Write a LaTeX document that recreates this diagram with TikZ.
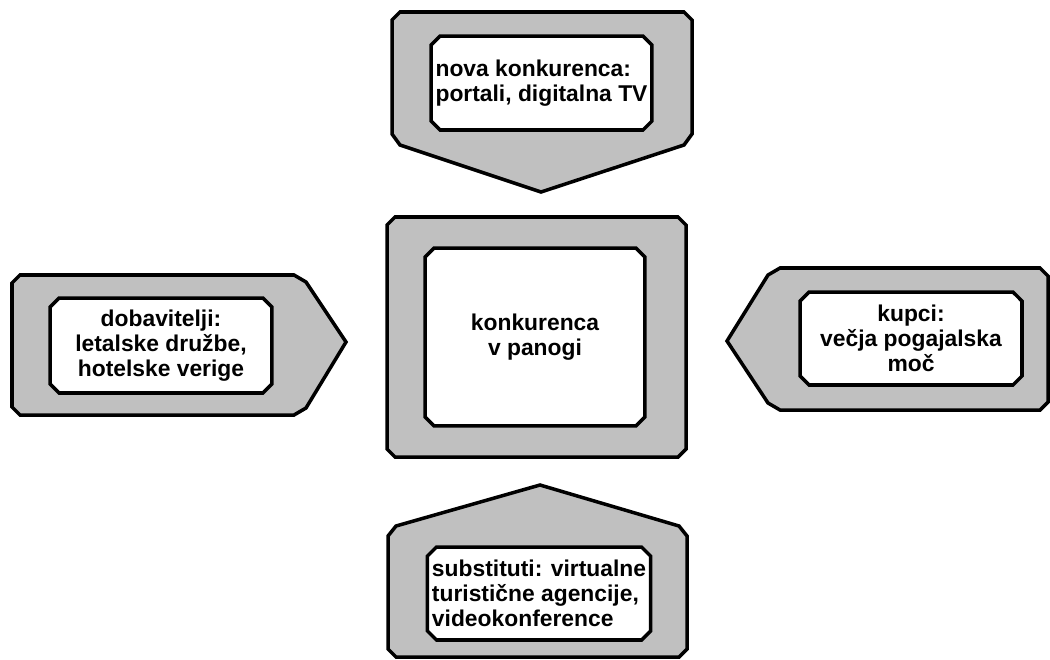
\documentclass[tikz,border=0pt]{standalone}
\usepackage{fontspec}
\setmainfont{Liberation Sans}
\usetikzlibrary{shapes.misc}
\definecolor{siva}{HTML}{C0C0C0}

\begin{document}
\begin{tikzpicture}[x=0.02cm,y=-0.02cm,
    okvir/.style={draw=black,line width=2pt,fill=siva,line join=miter},
    polje/.style={draw=black,line width=2pt,fill=white,chamfered rectangle,
      chamfered rectangle sep=0.09cm,inner sep=0pt,
      font=\bfseries\fontsize{13}{14.2}\selectfont}]

  %--- Okvir slike ---
  \useasboundingbox (0,0) rectangle (1050,659);

  %--- Konice puscic ---
  \coordinate (Tz) at (541,192);   % zgoraj
  \coordinate (Tl) at (346,342);   % levo
  \coordinate (Td) at (727,341);   % desno
  \coordinate (Ts) at (540,485);   % spodaj

  %--- Sive oblike ---
  \draw[okvir] (400,12) -- (684,12) -- (692,20) -- (692,134) -- (684,145)
    -- (Tz) -- (400,145) -- (392,134) -- (392,20) -- cycle;
  \draw[okvir] (395,217) -- (678,217) -- (686,225) -- (686,449) -- (678,457)
    -- (395,457) -- (387,449) -- (387,225) -- cycle;
  \draw[okvir] (20,275) -- (294,275) -- (306,282) -- (Tl) -- (306,408)
    -- (294,415) -- (20,415) -- (12,407) -- (12,283) -- cycle;
  \draw[okvir] (780,268) -- (1040,268) -- (1048,276) -- (1048,402) -- (1040,410)
    -- (780,410) -- (768,403) -- (Td) -- (768,275) -- cycle;
  \draw[okvir] (Ts) -- (679,526) -- (687,536) -- (687,649) -- (679,657)
    -- (396,657) -- (388,649) -- (388,536) -- (396,526) -- cycle;

  %--- Bela polja z besedilom ---
  \node[polje,minimum width=4.42cm,minimum height=1.88cm,align=left] (nova) at (541.5,83)
    {nova konkurenca:\\portali, digitalna TV};
  \node[polje,minimum width=4.4cm,minimum height=3.56cm,align=center] (panoga) at (535,337)
    {konkurenca\\v panogi};
  \node[polje,minimum width=4.44cm,minimum height=1.9cm,align=center] (dobavitelji) at (161,345.5)
    {dobavitelji:\\letalske družbe,\\hotelske verige};
  \node[polje,minimum width=4.44cm,minimum height=1.86cm,align=center] (kupci) at (911,338.5)
    {kupci:\\večja pogajalska\\moč};
  \node[polje,minimum width=4.44cm,minimum height=1.86cm,align=left] (substituti) at (539,593.5)
    {substituti: virtualne\\turistične agencije,\\videokonference};

\end{tikzpicture}
\end{document}
